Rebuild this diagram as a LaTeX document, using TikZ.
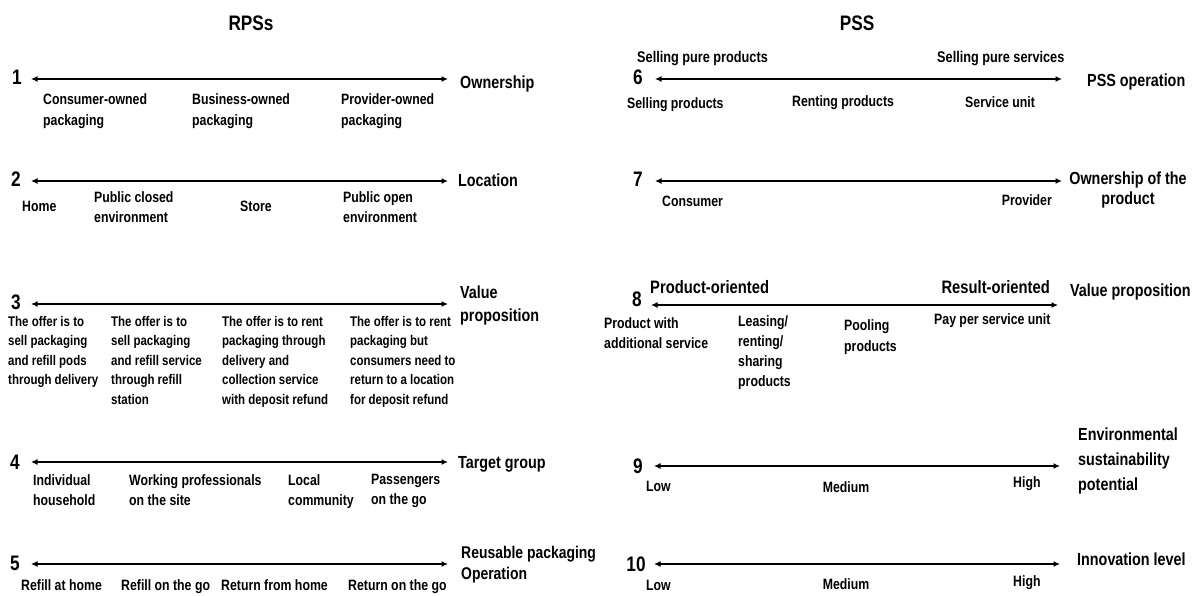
\documentclass[tikz,border=0pt]{standalone}
\usepackage{fontspec}
\setmainfont{Liberation Sans}[FakeStretch=0.82]
\usetikzlibrary{arrows.meta}

\newcommand\fItem{\fontsize{15}{21}\selectfont\bfseries}
\newcommand\fSmall{\fontsize{14}{19.5}\selectfont\bfseries}
\newcommand\fAxis{\fontsize{17.5}{23}\selectfont\bfseries}
\newcommand\fPole{\fontsize{18}{20}\selectfont\bfseries}
\newcommand\fNum{\fontsize{21}{22}\selectfont\bfseries}

\tikzset{
  axisline/.style={line width=1.9pt, {Latex[length=6.5pt,width=6pt]}-{Latex[length=6.5pt,width=6pt]}},
  item/.style={font=\fItem, align=left, inner sep=0pt, anchor=north west},
  itemr/.style={font=\fItem, align=right, inner sep=0pt, anchor=north east},
  itemc/.style={font=\fItem, align=center, inner sep=0pt, anchor=north},
  offer/.style={font=\fSmall, align=left, inner sep=0pt, anchor=north west},
  dim/.style={font=\fAxis, align=left, inner sep=0pt, anchor=north west},
  pole/.style={font=\fPole, inner sep=0pt, anchor=north west},
  num/.style={font=\fNum, inner sep=0pt, anchor=center},
  head/.style={font=\fNum, inner sep=0pt, anchor=center}
}

\begin{document}
\begin{tikzpicture}[x=1pt,y=-1pt]
\useasboundingbox (0,0) rectangle (1200,595);

% ---------- headings ----------
\node[head] (hRPS) at (251,23) {RPSs};
\node[head] (hPSS) at (857,23) {PSS};

% ---------- RPSs: 1 Ownership ----------
\node[num] (n1) at (17,77) {1};
\coordinate (a1l) at (31,79); \coordinate (a1r) at (448,79);
\draw[axisline] (a1l) -- (a1r);
\node[dim] (d1) at (460,76) {Ownership};
\node[item] (o1a) at (43,93) {Consumer-owned\\packaging};
\node[item] (o1b) at (192,93) {Business-owned\\packaging};
\node[item] (o1c) at (341,93) {Provider-owned\\packaging};

% ---------- RPSs: 2 Location ----------
\node[num] (n2) at (16,179) {2};
\coordinate (a2l) at (31,181); \coordinate (a2r) at (448,181);
\draw[axisline] (a2l) -- (a2r);
\node[dim] (d2) at (458,174) {Location};
\node[item] (o2a) at (22,201) {Home};
\node[item, font=\fontsize{15}{20}\selectfont\bfseries] (o2b) at (94,191) {Public closed\\environment};
\node[item] (o2c) at (240,201) {Store};
\node[item, font=\fontsize{15}{20}\selectfont\bfseries] (o2d) at (343,191) {Public open\\environment};

% ---------- RPSs: 3 Value proposition ----------
\node[num] (n3) at (16,302) {3};
\coordinate (a3l) at (31,304); \coordinate (a3r) at (448,304);
\draw[axisline] (a3l) -- (a3r);
\node[dim] (d3) at (460,286) {Value\\proposition};
\node[offer] (o3a) at (8,316) {The offer is to\\sell packaging\\and refill pods\\through delivery};
\node[offer] (o3b) at (111,316) {The offer is to\\sell packaging\\and refill service\\through refill\\station};
\node[offer] (o3c) at (222,316) {The offer is to rent\\packaging through\\delivery and\\collection service\\with deposit refund};
\node[offer] (o3d) at (350,316) {The offer is to rent\\packaging but\\consumers need to\\return to a location\\for deposit refund};

% ---------- RPSs: 4 Target group ----------
\node[num] (n4) at (15,462) {4};
\coordinate (a4l) at (31,462); \coordinate (a4r) at (448,462);
\draw[axisline] (a4l) -- (a4r);
\node[dim] (d4) at (458,456) {Target group};
\node[item, font=\fontsize{15}{20}\selectfont\bfseries] (o4a) at (33,474) {Individual\\household};
\node[item, font=\fontsize{15}{20}\selectfont\bfseries] (o4b) at (129,474) {Working professionals\\on the site};
\node[item, font=\fontsize{15}{20}\selectfont\bfseries] (o4c) at (288,474) {Local\\community};
\node[item, font=\fontsize{15}{20}\selectfont\bfseries] (o4d) at (371,474) {Passengers\\on the go};

% ---------- RPSs: 5 Reusable packaging operation ----------
\node[num] (n5) at (15,563) {5};
\coordinate (a5l) at (31,564); \coordinate (a5r) at (448,564);
\draw[axisline] (a5l) -- (a5r);
\node[dim, font=\fontsize{17}{21}\selectfont\bfseries] (d5) at (461,546) {Reusable packaging\\Operation};
\node[item] (o5a) at (21,579) {Refill at home};
\node[item] (o5b) at (121,579) {Refill on the go};
\node[item] (o5c) at (221,579) {Return from home};
\node[item] (o5d) at (348,579) {Return on the go};

% ---------- PSS: 6 PSS operation ----------
\node[num] (n6) at (638,77) {6};
\coordinate (a6l) at (655,79); \coordinate (a6r) at (1062,79);
\draw[axisline] (a6l) -- (a6r);
\node[dim] (d6) at (1087,74) {PSS operation};
\node[item, font=\fontsize{15.5}{20}\selectfont\bfseries] (p6a) at (637,51) {Selling pure products};
\node[item, font=\fontsize{15.5}{20}\selectfont\bfseries] (p6b) at (937,51) {Selling pure services};
\node[item] (o6a) at (627,97) {Selling products};
\node[item] (o6b) at (792,95) {Renting products};
\node[item] (o6c) at (965,96) {Service unit};

% ---------- PSS: 7 Ownership of the product ----------
\node[num] (n7) at (638,179) {7};
\coordinate (a7l) at (655,181); \coordinate (a7r) at (1062,181);
\draw[axisline] (a7l) -- (a7r);
\node[dim, align=center, anchor=north, font=\fontsize{17.5}{20}\selectfont\bfseries] (d7) at (1128,172) {Ownership of the\\product};
\node[item] (o7a) at (662,196) {Consumer};
\node[itemr] (o7b) at (1052,194) {Provider};

% ---------- PSS: 8 Value proposition ----------
\node[num] (n8) at (637,299) {8};
\coordinate (a8l) at (651,305); \coordinate (a8r) at (1058,305);
\draw[axisline] (a8l) -- (a8r);
\node[pole] (p8a) at (650,280) {Product-oriented};
\node[pole, anchor=north east] (p8b) at (1050,280) {Result-oriented};
\node[dim] (d8) at (1070,284) {Value proposition};
\node[item, font=\fontsize{15}{20}\selectfont\bfseries] (o8a) at (604,317) {Product with\\additional service};
\node[item, font=\fontsize{15}{20}\selectfont\bfseries] (o8b) at (738,315) {Leasing/\\renting/\\sharing\\products};
\node[item] (o8c) at (844,319) {Pooling\\products};
\node[item] (o8d) at (934,313) {Pay per service unit};

% ---------- PSS: 9 Environmental sustainability potential ----------
\node[num] (n9) at (638,466) {9};
\coordinate (a9l) at (654,466); \coordinate (a9r) at (1060,466);
\draw[axisline] (a9l) -- (a9r);
\node[dim, font=\fontsize{17.5}{25}\selectfont\bfseries] (d9) at (1078,428) {Environmental\\sustainability\\potential};
\node[item] (o9a) at (646,481) {Low};
\node[itemc] (o9b) at (846,481) {Medium};
\node[item] (o9c) at (1013,476) {High};

% ---------- PSS: 10 Innovation level ----------
\node[num] (n10) at (636,564) {10};
\coordinate (a10l) at (654,564); \coordinate (a10r) at (1060,564);
\draw[axisline] (a10l) -- (a10r);
\node[dim] (d10) at (1077,553) {Innovation level};
\node[item] (o10a) at (646,580) {Low};
\node[itemc] (o10b) at (846,578) {Medium};
\node[item] (o10c) at (1013,575) {High};
\end{tikzpicture}
\end{document}
